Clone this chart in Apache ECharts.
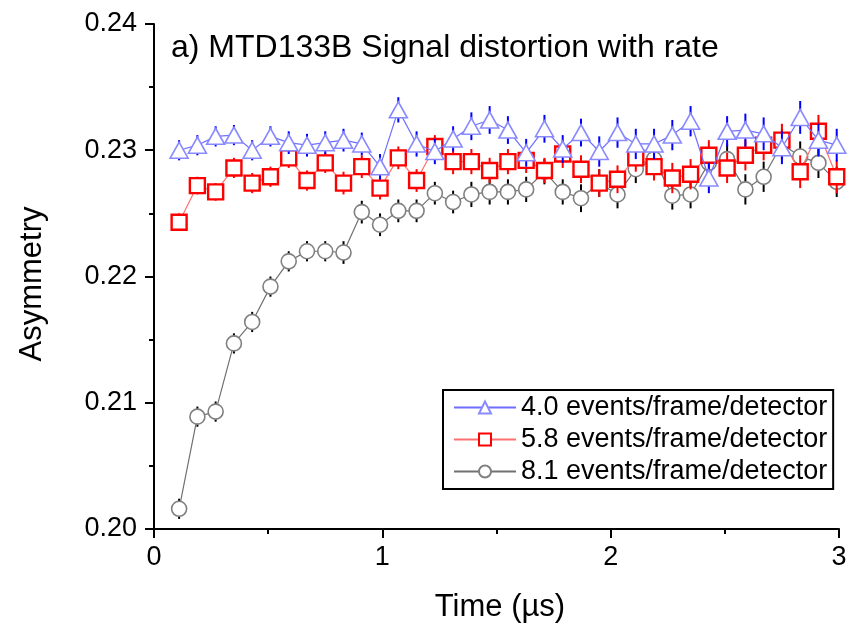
<!DOCTYPE html>
<html>
<head>
<meta charset="utf-8">
<script src="https://cdn.jsdelivr.net/npm/echarts@6/dist/echarts.min.js"></script>
<style>
html,body{margin:0;padding:0;background:#fff;}
#chart{width:852px;height:624px;}
</style>
</head>
<body>
<div id="chart"></div>
<script>
// Time (µs) of each bin
const timeUs = [0.11, 0.19, 0.27, 0.35, 0.43, 0.51, 0.59, 0.67, 0.75, 0.83,
  0.91, 0.99, 1.07, 1.15, 1.23, 1.31, 1.39, 1.47, 1.55, 1.63,
  1.71, 1.79, 1.87, 1.95, 2.03, 2.11, 2.19, 2.27, 2.35, 2.43,
  2.51, 2.59, 2.67, 2.75, 2.83, 2.91, 2.99];

// 4.0 events/frame/detector
const asym40 = [0.2300, 0.2304, 0.2311, 0.2312, 0.2300, 0.2311, 0.2306, 0.2304, 0.2306, 0.2308,
  0.2305, 0.2287, 0.2332, 0.2305, 0.2299, 0.2309, 0.2319, 0.2324, 0.2316, 0.2298,
  0.2317, 0.2301, 0.2314, 0.2299, 0.2314, 0.2305, 0.2305, 0.2312, 0.2323, 0.2278,
  0.2315, 0.2316, 0.2313, 0.2302, 0.2326, 0.2308, 0.2304];
const err40 = [0.0008, 0.0008, 0.0008, 0.0008, 0.0008, 0.0008, 0.0009, 0.0009, 0.0009, 0.0009,
  0.0009, 0.0010, 0.0010, 0.0010, 0.0010, 0.0010, 0.0011, 0.0011, 0.0011, 0.0011,
  0.0011, 0.0011, 0.0011, 0.0012, 0.0012, 0.0012, 0.0012, 0.0012, 0.0012, 0.0012,
  0.0012, 0.0013, 0.0013, 0.0013, 0.0013, 0.0013, 0.0013];

// 5.8 events/frame/detector
const asym58 = [0.2243, 0.2272, 0.2267, 0.2286, 0.2274, 0.2279, 0.2294, 0.2276, 0.2290, 0.2274,
  0.2287, 0.2270, 0.2294, 0.2276, 0.2303, 0.2291, 0.2291, 0.2284, 0.2291, 0.2292,
  0.2284, 0.2297, 0.2285, 0.2274, 0.2277, 0.2294, 0.2287, 0.2278, 0.2281, 0.2296,
  0.2286, 0.2296, 0.2304, 0.2308, 0.2283, 0.2315, 0.2279];
const err58 = [0.0007, 0.0007, 0.0007, 0.0008, 0.0008, 0.0008, 0.0008, 0.0008, 0.0008, 0.0009,
  0.0009, 0.0009, 0.0009, 0.0009, 0.0009, 0.0010, 0.0010, 0.0010, 0.0010, 0.0010,
  0.0010, 0.0011, 0.0011, 0.0011, 0.0011, 0.0011, 0.0011, 0.0012, 0.0012, 0.0012,
  0.0012, 0.0012, 0.0012, 0.0013, 0.0013, 0.0013, 0.0013];

// 8.1 events/frame/detector
const asym81 = [0.2016, 0.2089, 0.2093, 0.2147, 0.2164, 0.2192, 0.2212, 0.2220, 0.2220, 0.2219,
  0.2251, 0.2241, 0.2252, 0.2252, 0.2266, 0.2259, 0.2265, 0.2267, 0.2267, 0.2269,
  0.2283, 0.2267, 0.2262, 0.2274, 0.2265, 0.2285, 0.2293, 0.2264, 0.2265, 0.2290,
  0.2293, 0.2269, 0.2279, 0.2305, 0.2295, 0.2290, 0.2275];
const err81 = [0.0008, 0.0008, 0.0008, 0.0008, 0.0008, 0.0008, 0.0008, 0.0008, 0.0008, 0.0009,
  0.0009, 0.0009, 0.0009, 0.0009, 0.0009, 0.0009, 0.0010, 0.0010, 0.0010, 0.0010,
  0.0010, 0.0010, 0.0011, 0.0011, 0.0011, 0.0011, 0.0011, 0.0011, 0.0011, 0.0012,
  0.0012, 0.0012, 0.0012, 0.0012, 0.0012, 0.0012, 0.0012];

const seriesNames = ['4.0 events/frame/detector', '5.8 events/frame/detector', '8.1 events/frame/detector'];
const yTicks = ['0.20', '0.21', '0.22', '0.23', '0.24'];
const xTicks = ['0', '1', '2', '3'];
const titleText = 'a) MTD133B Signal distortion with rate';
const xTitle = 'Time (µs)';
const yTitle = 'Asymmetry';

const FONT = '"Liberation Sans", Arial, sans-serif';

function pts(vals) { return timeUs.map((t, i) => [t, vals[i]]); }
function errs(vals, e) { return timeUs.map((t, i) => [t, vals[i] - e[i], vals[i] + e[i]]); }
function errSeries(vals, e, color, z) {
  return {
    type: 'custom', z: z, silent: true, clip: true,
    data: errs(vals, e),
    encode: { x: 0, y: [1, 2] },
    renderItem: function (params, api) {
      const x = api.value(0);
      const p1 = api.coord([x, api.value(1)]);
      const p2 = api.coord([x, api.value(2)]);
      return { type: 'line', shape: { x1: p1[0], y1: p1[1], x2: p2[0], y2: p2[1] },
        style: { stroke: color, lineWidth: 2 } };
    }
  };
}

const chart = echarts.init(document.getElementById('chart'), null, { renderer: 'canvas' });
chart.setOption({
  animation: false,
  backgroundColor: '#fff',
  textStyle: { fontFamily: FONT },
  title: {
    text: titleText, left: 166, top: 27,
    textStyle: { fontFamily: FONT, fontSize: 32, fontWeight: 'normal', color: '#000' }
  },
  grid: { left: 154, right: 13, top: 24, bottom: 95, containLabel: false },
  xAxis: {
    type: 'value', min: 0, max: 3, interval: 1,
    axisLine: { show: true, lineStyle: { color: '#000', width: 2 } },
    axisTick: { show: true, inside: false, length: 9, lineStyle: { color: '#000', width: 2 } },
    minorTick: { show: true, splitNumber: 2, length: 5, lineStyle: { color: '#000', width: 2 } },
    splitLine: { show: false },
    axisLabel: { margin: 15, fontSize: 27, color: '#000', fontFamily: FONT,
      formatter: v => xTicks[Math.round(v)] }
  },
  yAxis: {
    type: 'value', min: 0.20, max: 0.24, interval: 0.01,
    axisLine: { show: true, lineStyle: { color: '#000', width: 2 } },
    axisTick: { show: true, inside: false, length: 9, lineStyle: { color: '#000', width: 2 } },
    minorTick: { show: true, splitNumber: 2, length: 5, lineStyle: { color: '#000', width: 2 } },
    splitLine: { show: false },
    axisLabel: { margin: 17, fontSize: 27, color: '#000', fontFamily: FONT,
      formatter: v => yTicks[Math.round((v - 0.20) * 100)] }
  },
  legend: {
    orient: 'vertical', left: 443, top: 390,
    data: seriesNames,
    itemWidth: 62, itemHeight: 15, itemGap: 1,
    padding: [2, 6, 2, 10],
    backgroundColor: '#fff', borderColor: '#000', borderWidth: 2,
    textStyle: { fontSize: 27, color: '#000', fontFamily: FONT, lineHeight: 31 }
  },
  graphic: [
    { type: 'text', x: 500, y: 607,
      style: { text: xTitle, fontSize: 31, fontFamily: FONT, fill: '#000', align: 'center', verticalAlign: 'middle' } },
    { type: 'text', x: 32, y: 284, rotation: Math.PI / 2,
      style: { text: yTitle, fontSize: 31, fontFamily: FONT, fill: '#000', align: 'center', verticalAlign: 'middle' } }
  ],
  series: [
    errSeries(asym81, err81, '#000000', 1),
    {
      name: seriesNames[2], type: 'line', z: 2, data: pts(asym81),
      symbol: 'circle', symbolSize: 15,
      lineStyle: { color: '#707070', width: 1.2 },
      itemStyle: { color: '#ffffff', borderColor: '#808080', borderWidth: 1.6 }
    },
    errSeries(asym58, err58, '#ff0000', 3),
    {
      name: seriesNames[1], type: 'line', z: 4, data: pts(asym58),
      symbol: 'rect', symbolSize: 15,
      lineStyle: { color: '#ff7070', width: 1.2 },
      itemStyle: { color: '#ffffff', borderColor: '#ff0000', borderWidth: 2.4 }
    },
    errSeries(asym40, err40, '#0000ff', 5),
    {
      name: seriesNames[0], type: 'line', z: 6, data: pts(asym40),
      symbol: 'triangle', symbolSize: [18, 16],
      lineStyle: { color: '#6f6fff', width: 1.2 },
      itemStyle: { color: '#ffffff', borderColor: '#8a8aff', borderWidth: 1.6 }
    }
  ]
});
</script>
</body>
</html>
